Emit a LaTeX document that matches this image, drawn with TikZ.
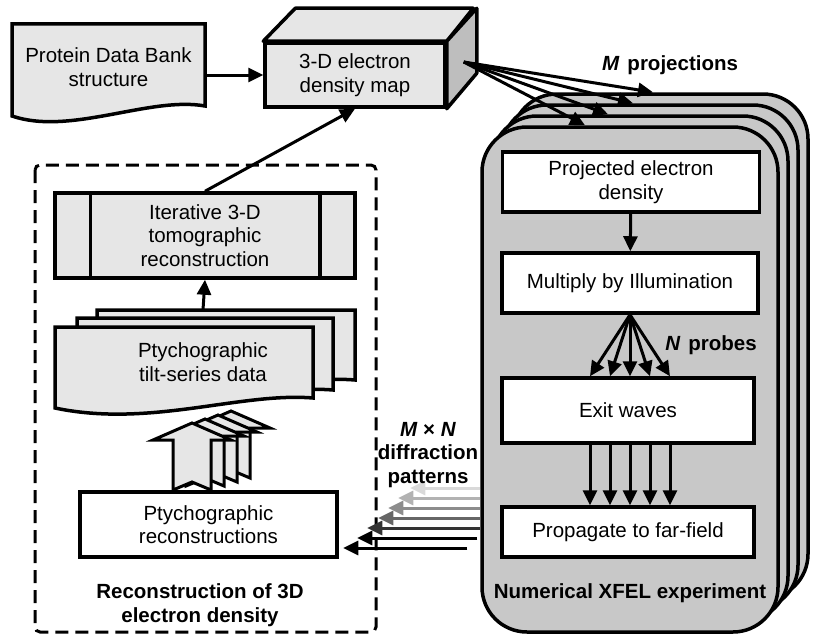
\documentclass[tikz,border=0pt]{standalone}
\usepackage{fontspec}
\setmainfont{Liberation Sans}
\usetikzlibrary{calc,arrows.meta}
\definecolor{boxgray}{RGB}{230,230,230}
\definecolor{layergray}{RGB}{200,200,200}
\definecolor{sidegray}{RGB}{190,190,190}
\newcommand{\figfont}{\fontsize{20.5}{23.5}\selectfont}
\tikzset{
    box/.style={draw,line width=3.5pt,fill=boxgray,inner sep=0pt,align=center},
    wbox/.style={box,fill=white},
    doc/.style={draw,line width=3.5pt,fill=boxgray},
    layer/.style={draw,line width=3.5pt,fill=layergray,rounded corners=45pt,minimum width=296pt,minimum height=505pt},
    arr/.style={line width=3pt,-{Triangle[length=15pt,width=14pt]}},
    lbl/.style={font=\figfont\bfseries,align=center},
  }

\begin{document}
\begin{tikzpicture}[x=1pt,y=-1pt,font=\figfont]
				  \useasboundingbox (0,0) rectangle (813,634);
				  %experiment stack
				  \foreach \i in {3,2,1,0}
				    \node[layer] (exp\i) at (630+10*\i,379.5-11*\i) {};
				  \node[wbox,minimum width=257pt,minimum height=60pt] (proj) at (631,182) {Projected electron\\density};
				  \node[wbox,minimum width=256pt,minimum height=60pt] (mult) at (630,283) {Multiply by Illumination};
				  \node[wbox,minimum width=252pt,minimum height=65pt] (exit) at (628,410.5) {Exit waves};
				  \node[wbox,minimum width=252pt,minimum height=50pt] (prop) at (628,532) {Propagate to far-field};
				  \node[lbl] (xfel) at (630,593) {Numerical XFEL experiment};
				  \draw[arr] (proj) -- (mult);
				  \foreach \dx in {-40,-20,0,20,40}
				    \draw[arr] (mult.south) -- ($(mult.south |- exit.north)+(\dx,0)$);
				  \foreach \dx in {-40,-20,0,20,40}
				    \draw[arr] ($(exit.south)+(2+\dx,0)$) -- ($(exit.south |- prop.north)+(2+\dx,0)$);
				  \node[lbl] (nprob) at (711,345) {\textit{N}\hspace{8pt}probes};

				  %protein data bank
				  \draw[doc] (12,24) -- (205,24) -- (205,106) .. controls (150,96) and (70,136) .. (12,116) -- cycle;
				  \node[minimum width=193pt,align=center] (pdb) at (108.5,67) {Protein Data Bank\\structure};

				  %3-D map (box)
				  \node[box,minimum width=180pt,minimum height=64pt] (map) at (355,75) {3-D electron\\density map};
				  \draw[doc,line join=round] (map.north west) -- ++(32,-33) -- ++(178,0) -- (map.north east) -- cycle;
				  \draw[doc,fill=sidegray,line join=round] (map.north east) -- ++(30,-33) -- ++(0,65) -- (map.south east) -- cycle;
				  \draw[arr] (pdb.east |- map.west) -- (map.west);
				  \coordinate (src) at ($(map.east)+(17,-13)$);
				  \foreach \i/\dx in {3/-7,2/-17,1/-32,0/-45}
				    \draw[arr] (src) -- ($(exp\i.north)+(\dx,0)$);
				  \node[lbl] (mproj) at (670,65) {\textit{M}\hspace{8pt}projections};

				  %reconstruction part
				  \draw[line width=3pt,dash pattern=on 13pt off 7pt,rounded corners=5pt] (35,165) rectangle (376,632);
				  \node[box,minimum width=300pt,minimum height=85pt] (iter) at (205,235.5) {Iterative 3-D\\tomographic\\reconstruction};
				  \draw[line width=3.5pt] ($(iter.north west)+(37,0)$) -- ($(iter.south west)+(37,0)$);
				  \draw[line width=3.5pt] ($(iter.north east)+(-37,0)$) -- ($(iter.south east)+(-37,0)$);
				  \draw[arr] (iter.north) -- (map.south);

				  \draw[doc] (97,310) -- (355,310) -- (355,380) .. controls (282,374) and (192,410) .. (97,390) -- cycle;
				  \draw[doc] (77,318) -- (333,318) -- (333,390) .. controls (260,384) and (170,420) .. (77,400) -- cycle;
				  \draw[doc] (55,327) -- (313,327) -- (313,398) .. controls (240,392) and (150,428) .. (55,408) -- cycle;
				  \node[minimum width=300pt,minimum height=104pt,align=center] (tilt) at (203,362) {Ptychographic\\tilt-series data};
				  \draw[arr] (tilt.north) -- (iter.south);

				  %stacked block arrows
				  \foreach \i in {3,2,1,0}
				    \draw[doc,line width=3pt] ($(192,423)+(13*\i,-4*\i)$) -- ++(39,17) -- ++(-20,0) -- ++(0,50) -- ++(-19,-8) -- ++(-19,8) -- ++(0,-50) -- ++(-20,0) -- cycle;

				  \node[wbox,minimum width=257pt,minimum height=65pt] (recon) at (208.5,524.5) {Ptychographic\\reconstructions};
				  \node[lbl] (rec3d) at (200,605) {Reconstruction of 3D\\electron density};

				  %diffraction patterns
				  \foreach \i/\col/\s/\l in {0/black!15/0/70,1/black!30/0/82,2/black!45/0/92,3/black!60/0/102,4/black!80/0/113,5/black/3/120,6/black/13/124}
				    \draw[arr,draw=\col] ($(exp0.west)+(-\s,108.5+10*\i)$) -- ++(-\l,0);
				  \node[lbl] (diffr) at (428,455) {\textit{M} × \textit{N}\\diffraction\\patterns};
				  \end{tikzpicture}
\end{document}
